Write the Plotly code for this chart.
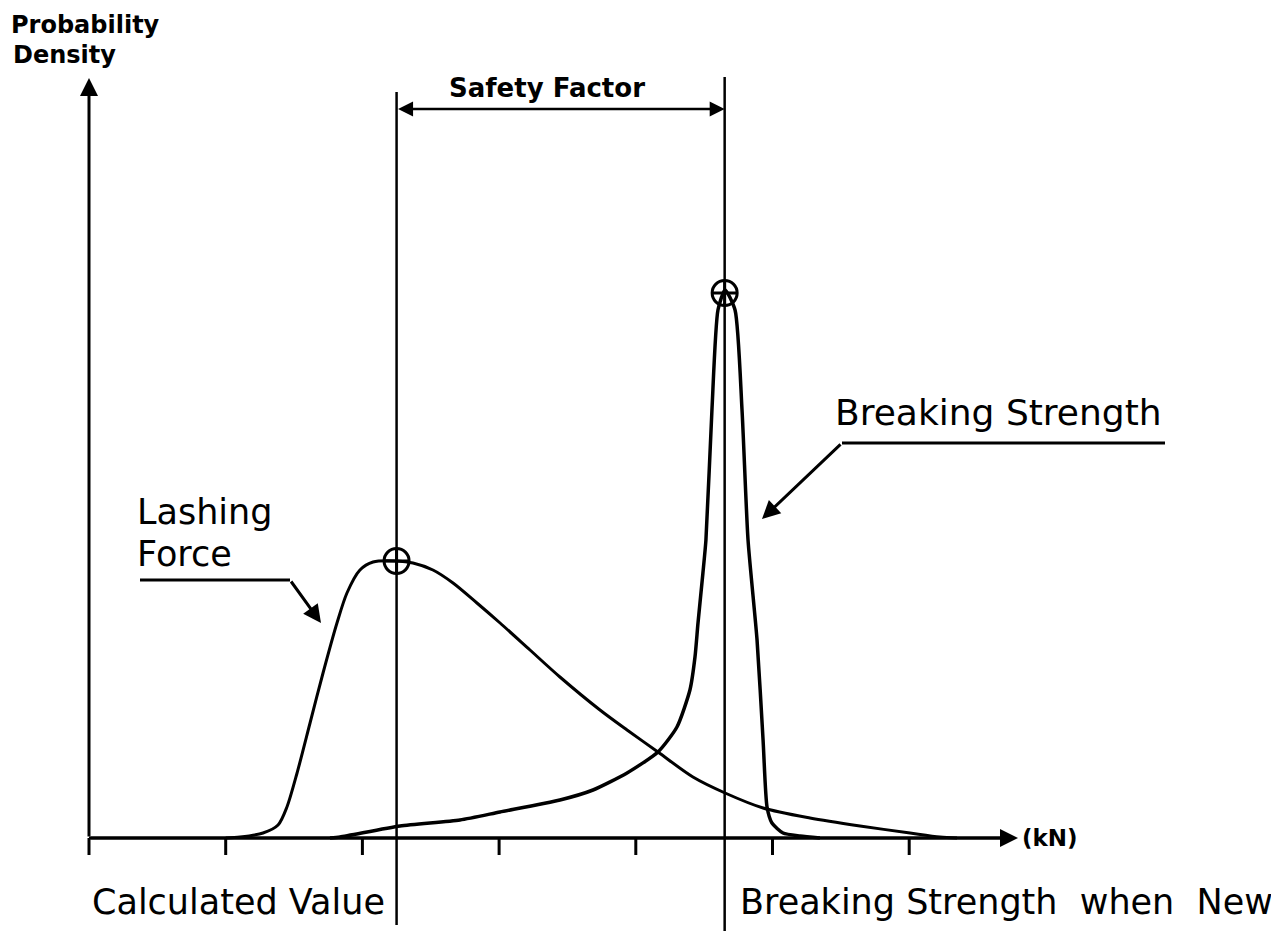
import plotly.graph_objects as go

# lashing force density curve (x in kN tick units, y in density units)
lash_x = [1.0, 1.105, 1.273, 1.383, 1.448, 1.522, 1.617, 1.712, 1.814, 1.887, 1.982, 2.078,
          2.253, 2.370, 2.516, 2.663, 2.838, 3.007, 3.226, 3.445, 3.738, 3.936, 4.162, 4.418,
          4.653, 4.931, 5.274, 5.640, 6.006, 6.225, 6.35]
lash_y = [0.0, 0.01, 0.05, 0.13, 0.31, 0.65, 1.15, 1.65, 2.15, 2.45, 2.68, 2.76,
          2.77, 2.75, 2.68, 2.55, 2.35, 2.15, 1.88, 1.61, 1.28, 1.08, 0.86, 0.61,
          0.45, 0.30, 0.20, 0.12, 0.05, 0.01, 0.0]

# breaking strength density curve
brk_x = [1.763, 1.836, 2.275, 2.714, 3.007, 3.445, 3.687, 3.936, 4.162, 4.301, 4.396, 4.433,
         4.455, 4.491, 4.513, 4.557, 4.601, 4.653, 4.726, 4.777, 4.821, 4.887, 4.931, 4.960,
         4.996, 5.077, 5.201, 5.347]
brk_y = [0.0, 0.01, 0.12, 0.18, 0.26, 0.38, 0.48, 0.65, 0.86, 1.11, 1.48, 1.81,
         2.15, 2.65, 2.98, 4.28, 5.28, 5.48, 5.28, 4.28, 2.98, 1.98, 0.98, 0.31,
         0.15, 0.05, 0.02, 0.0]

tick_vals = [0, 1, 2, 3, 4, 5, 6]
calc_value = 2.25      # calculated value (lashing force peak)
break_new = 4.65       # breaking strength when new
lash_peak = 2.77
brk_peak = 5.45

# pixel -> data mapping of the drawing
X0, XS = 89, 136.7
Y0, YS = 838, 100.0
W, H = 1279, 931
OFF = 8  # page body margin

def ux(px):
    return (px - X0) / XS

def uy(py):
    return (Y0 - py) / YS

FONT = "DejaVu Sans"
LINE = dict(color="black", width=3)

fig = go.Figure()

# curves
fig.add_trace(go.Scatter(x=lash_x, y=lash_y, mode="lines", line=dict(color="black", width=3, shape="spline", smoothing=0.8)))
fig.add_trace(go.Scatter(x=brk_x, y=brk_y, mode="lines", line=dict(color="black", width=3.5, shape="spline", smoothing=0.6)))

# axis ticks below baseline
tx, ty = [], []
for t in tick_vals:
    tx += [t, t, None]
    ty += [0, uy(855), None]
fig.add_trace(go.Scatter(x=tx, y=ty, mode="lines", line=LINE))

# baseline + vertical reference lines
fig.add_trace(go.Scatter(x=[0, ux(1010)], y=[0, 0], mode="lines", line=LINE))
fig.add_trace(go.Scatter(x=[calc_value, calc_value], y=[uy(92), uy(925)], mode="lines",
                         line=dict(color="black", width=2.5)))
fig.add_trace(go.Scatter(x=[break_new, break_new], y=[uy(77), uy(940)], mode="lines",
                         line=dict(color="black", width=2.5)))

# leader lines
fig.add_trace(go.Scatter(x=[ux(140), ux(290)], y=[uy(580), uy(580)], mode="lines", line=LINE))
fig.add_trace(go.Scatter(x=[ux(1165), ux(842)], y=[uy(443), uy(443)], mode="lines", line=LINE))

# peak markers
fig.add_trace(go.Scatter(x=[calc_value, break_new], y=[lash_peak, brk_peak], mode="markers",
                         marker=dict(symbol="circle-cross-open", size=25, color="black",
                                     line=dict(width=3, color="black"))))

def arrow(x0, y0, x1, y1, side="end", width=2.5):
    fig.add_annotation(x=x1, y=y1, ax=x0, ay=y0, xref="x", yref="y", axref="x", ayref="y",
                       text="", showarrow=True, arrowhead=2, arrowsize=1.2, arrowwidth=width,
                       arrowcolor="black", arrowside=side, startarrowhead=2, startarrowsize=1.2)

arrow(0, 0, 0, uy(78), width=3)
arrow(0, 0, ux(1018), 0, width=3)
arrow(calc_value, uy(109), break_new, uy(109), side="end+start", width=2.5)
arrow(ux(290), uy(580), ux(321), uy(623), width=3)
arrow(ux(842), uy(443), ux(762), uy(519), width=3)

def label(px, py, text, size, bold=False, anchor="left"):
    fig.add_annotation(x=ux(px), y=uy(py), text=f"<b>{text}</b>" if bold else text,
                       showarrow=False, xanchor=anchor, yanchor="middle",
                       font=dict(family=FONT, size=size, color="black"))

label(9, 25, "Probability", 24, bold=True)
label(11, 55, "Density", 24, bold=True)
label(547, 88, "Safety Factor", 26, bold=True, anchor="center")
label(135, 512, "Lashing", 35)
label(135, 554, "Force", 35)
label(833, 412, "Breaking Strength", 36)
label(90, 902, "Calculated Value", 35)
label(738, 902, "Breaking Strength&nbsp; when&nbsp; New", 35)
label(1020, 838, "(kN)", 23, bold=True)

fig.update_layout(
    width=W, height=H, autosize=False,
    margin=dict(l=0, r=0, t=0, b=0),
    paper_bgcolor="white", plot_bgcolor="white",
    showlegend=False,
    xaxis=dict(range=[ux(OFF), ux(W + OFF)], visible=False, fixedrange=True),
    yaxis=dict(range=[uy(H + OFF), uy(OFF)], visible=False, fixedrange=True),
)

fig.write_html("out.html")
